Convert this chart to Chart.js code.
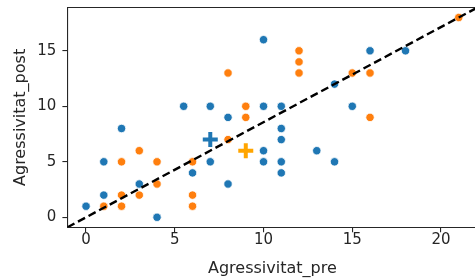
<!DOCTYPE html>
<html>
<head>
<meta charset="utf-8">
<script src="https://cdn.jsdelivr.net/npm/chart.js@4/dist/chart.umd.min.js"></script>
<style>
  html, body { margin: 0; padding: 0; background: #fff; overflow: hidden; width: 475px; height: 280px; }
  canvas { display: block; }
</style>
</head>
<body>
<canvas id="c" width="480" height="280"></canvas>
<script>
// ---- data ----
const blueX = [0, 1, 1, 2, 3, 4, 5.5, 6, 7, 7, 8, 8, 10, 10, 10, 10, 11, 11, 11, 11, 11, 13, 14, 14, 15, 16, 18];
const blueY = [1, 2, 5, 8, 3, 0, 10, 4, 5, 10, 3, 9, 16, 10, 6, 5, 10, 8, 7, 5, 4, 6, 5, 12, 10, 15, 15];
const orangeX = [1, 2, 2, 2, 3, 3, 4, 4, 6, 6, 6, 8, 8, 9, 9, 12, 12, 12, 15, 16, 16, 21];
const orangeY = [1, 1, 2, 5, 2, 6, 3, 5, 1, 2, 5, 7, 13, 9, 10, 13, 14, 15, 13, 13, 9, 18];
const blueCenter = [7, 7];
const orangeCenter = [9, 6];
const xLimits = [-1.05, 22.05];
const yLimits = [-0.9, 18.9];
const xTicks = [0, 5, 10, 15, 20];
const yTicks = [0, 5, 10, 15];
const xLabel = 'Agressivitat_pre';
const yLabel = 'Agressivitat_post';

const toPts = (xs, ys) => xs.map((x, i) => ({ x: x, y: ys[i] }));

const frame = {
  id: 'frame',
  afterDatasetsDraw(chart) {
    const a = chart.chartArea, ctx = chart.ctx;
    ctx.save();
    ctx.strokeStyle = '#262626';
    ctx.lineWidth = 1.1;
    ctx.beginPath();
    ctx.moveTo(a.left, a.top);
    ctx.lineTo(a.right, a.top);
    ctx.lineTo(a.right, a.bottom);
    ctx.stroke();
    ctx.restore();
  }
};

const zeroPad = s => { s.paddingTop = 0; s.paddingBottom = 0; s.paddingLeft = 0; s.paddingRight = 0; };

const font = { family: 'DejaVu Sans', size: 15 };
const titleFont = { family: 'DejaVu Sans', size: 16 };

new Chart(document.getElementById('c'), {
  type: 'scatter',
  data: {
    datasets: [
      {
        type: 'line',
        data: [{ x: xLimits[0], y: yLimits[0] }, { x: xLimits[1], y: yLimits[1] }],
        borderColor: '#000',
        borderWidth: 2.4,
        borderDash: [8, 4],
        pointRadius: 0,
        fill: false,
        order: 0
      },
      {
        data: [{ x: orangeCenter[0], y: orangeCenter[1] }],
        pointStyle: 'cross',
        radius: 7.5,
        borderWidth: 4,
        borderColor: '#ffa500',
        backgroundColor: '#ffa500',
        order: 1
      },
      {
        data: [{ x: blueCenter[0], y: blueCenter[1] }],
        pointStyle: 'cross',
        radius: 7.5,
        borderWidth: 4,
        borderColor: '#1f77b4',
        backgroundColor: '#1f77b4',
        order: 2
      },
      {
        data: toPts(orangeX, orangeY),
        backgroundColor: '#ff7f0e',
        borderColor: '#ffffff',
        borderWidth: 0.8,
        radius: 4.2,
        order: 3
      },
      {
        data: toPts(blueX, blueY),
        backgroundColor: '#1f77b4',
        borderColor: '#ffffff',
        borderWidth: 0.8,
        radius: 4.2,
        order: 4
      }
    ]
  },
  options: {
    responsive: false,
    animation: false,
    events: [],
    layout: { autoPadding: false, padding: { top: 7.5, right: 2.6, left: 0, bottom: 0 } },
    plugins: { legend: { display: false }, tooltip: { enabled: false } },
    scales: {
      x: {
        type: 'linear',
        min: xLimits[0],
        max: xLimits[1],
        afterBuildTicks: ax => { ax.ticks = xTicks.map(v => ({ value: v })); },
        afterFit: s => { s.height = 52.7; zeroPad(s); },
        grid: { display: true, drawOnChartArea: false, drawTicks: true, tickLength: 5, color: '#262626', lineWidth: 1.1 },
        border: { display: true, color: '#262626', width: 1.1 },
        ticks: { color: '#262626', font: font, padding: -1, maxRotation: 0, callback: v => String(v) },
        title: { display: true, text: xLabel, color: '#262626', font: titleFont, padding: { top: 4, bottom: 1.5 } }
      },
      y: {
        type: 'linear',
        min: yLimits[0],
        max: yLimits[1],
        afterBuildTicks: ax => { ax.ticks = yTicks.map(v => ({ value: v })); },
        afterFit: s => { s.width = 67.4; zeroPad(s); },
        grid: { display: true, drawOnChartArea: false, drawTicks: true, tickLength: 5, color: '#262626', lineWidth: 1.1 },
        border: { display: true, color: '#262626', width: 1.1 },
        ticks: { color: '#262626', font: font, padding: 6, callback: v => String(v) },
        title: { display: true, text: yLabel, color: '#262626', font: titleFont, padding: { top: 11, bottom: 0 } }
      }
    }
  },
  plugins: [frame]
});
</script>
</body>
</html>
